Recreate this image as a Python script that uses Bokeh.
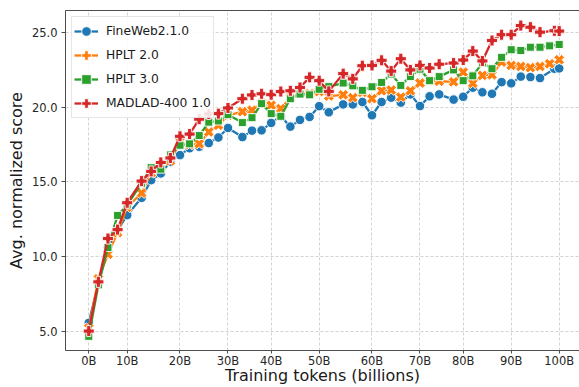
import numpy as np
from bokeh.plotting import figure
from bokeh.models import Range1d, FixedTicker, Legend, LegendItem, PrintfTickFormatter, LinearAxis
from bokeh.embed import file_html
from bokeh.resources import INLINE

# ---- data (x = checkpoint position on the plotted axis, y = avg. normalized score) ----
tick_pos = [0, 8, 19, 29, 38, 48, 59, 69, 78, 88, 98]
tick_labels = ["0B", "10B", "20B", "30B", "40B", "50B", "60B", "70B", "80B", "90B", "100B"]
y_ticks = [5, 10, 15, 20, 25]

x_fineweb = [0, 2, 4, 6, 8, 11, 13, 15, 17, 19, 21, 23, 25, 27, 29, 32, 34, 36, 38, 40, 42, 44, 46, 48, 50,
             53, 55, 57, 59, 61, 63, 65, 67, 69, 71, 73, 76, 78, 80, 82, 84, 86, 88, 90, 92, 94, 97, 98]
y_fineweb = [5.55, 8.2, 10.6, 11.77, 12.77, 13.93, 15.11, 15.56, 16.34, 16.79, 17.25, 17.35, 17.6, 17.97, 18.61,
             18.0, 18.43, 18.45, 18.95, 19.4, 18.7, 19.15, 19.35, 20.07, 19.66,
             20.19, 20.19, 20.35, 19.46, 20.35, 20.64, 20.31, 20.86, 20.08, 20.73, 20.86,
             20.51, 20.7, 21.31, 21.0, 20.9, 21.68, 21.6, 22.05, 22.02, 21.95, 22.58, 22.6]

x_hplt2 = [0, 2, 4, 6, 8, 11, 13, 15, 17, 19, 21, 23, 25, 27, 29, 32, 34, 36, 38, 40, 42, 44, 46, 48, 50,
           53, 55, 57, 59, 61, 63, 65, 67, 69, 71, 73, 76, 78, 80, 82, 84, 86, 88, 90, 92, 94, 96, 98]
y_hplt2 = [5.2, 8.5, 10.15, 11.6, 13.3, 14.25, 15.6, 16.0, 16.4, 17.7, 17.5, 17.55, 18.34, 18.79, 19.46,
           19.7, 19.8, 20.28, 20.13, 19.91, 20.64, 21.0, 20.9, 21.05, 20.75,
           20.83, 20.64, 21.0, 20.57, 21.1, 21.15, 20.68, 21.1, 21.62, 21.8, 21.74,
           21.7, 22.35, 21.6, 22.13, 22.17, 23.02, 22.8, 22.73, 22.65, 22.73, 22.91, 23.18]

x_hplt3 = list(x_hplt2)
y_hplt3 = [4.65, 8.1, 10.6, 12.75, 13.45, 14.9, 15.95, 15.85, 16.8, 17.45, 17.55, 18.1, 19.0, 19.08, 19.5,
           18.97, 19.3, 20.24, 19.57, 19.39, 20.57, 20.88, 20.83, 21.2, 21.38,
           21.62, 21.43, 21.13, 21.37, 21.66, 22.22, 21.46, 22.05, 22.55, 21.78, 22.05,
           22.5, 21.78, 22.1, 22.97, 22.58, 23.34, 23.85, 23.8, 24.02, 24.02, 24.11, 24.2]

x_madlad = list(x_fineweb)
y_madlad = [5.0, 8.3, 11.2, 11.8, 13.6, 15.05, 15.7, 16.3, 16.6, 18.05, 18.2, 19.2, 19.55, 19.57, 19.95,
            20.57, 20.82, 20.9, 20.84, 21.05, 21.1, 21.32, 22.0, 21.78, 21.06,
            22.25, 21.9, 22.78, 22.8, 23.14, 22.42, 23.25, 22.5, 22.8, 22.63, 22.88,
            22.96, 23.16, 23.76, 23.1, 24.47, 24.86, 24.86, 25.47, 25.36, 25.03, 25.12, 25.1]

series = [
    ("FineWeb2.1.0", x_fineweb, y_fineweb),
    ("HPLT 2.0", x_hplt2, y_hplt2),
    ("HPLT 3.0", x_hplt3, y_hplt3),
    ("MADLAD-400 1.0", x_madlad, y_madlad),
]

# ---- styles ----
colors = ["#1f77b4", "#ff7f0e", "#2ca02c", "#d62728"]
markers = [("circle", 9.5, 0.0), ("plus", 11, np.pi / 4), ("square", 8, 0.0), ("plus", 11, 0.0)]
FONT = "DejaVu Sans"
SPINE = "#4d4d4d"

p = figure(width=579, height=387, output_backend="svg", toolbar_location=None,
           x_range=Range1d(-4.85, 102.23), y_range=Range1d(3.70, 26.48),
           min_border_left=65, min_border_right=0, min_border_top=10, min_border_bottom=36)
p.background_fill_color = "white"
p.border_fill_color = "white"
p.outline_line_color = None

xax = p.below[0]
yax = p.left[0]

# top spine (no right spine visible in the reference)
top_axis = LinearAxis(ticker=FixedTicker(ticks=[]), major_tick_line_color=None,
                      minor_tick_line_color=None, major_label_text_font_size="10px",
                      axis_line_color=SPINE, axis_line_width=1)
p.add_layout(top_axis, "above")

# grid
for g in (p.xgrid, p.ygrid):
    g.grid_line_color = "#b0b0b0"
    g.grid_line_alpha = 0.7
    g.grid_line_dash = "3 2"
    g.grid_line_width = 0.8
p.xgrid.ticker = FixedTicker(ticks=tick_pos)
p.ygrid.ticker = FixedTicker(ticks=y_ticks)

# axes
xax.ticker = FixedTicker(ticks=tick_pos)
xax.major_label_overrides = {t: l for t, l in zip(tick_pos, tick_labels)}
yax.ticker = FixedTicker(ticks=y_ticks)
yax.formatter = PrintfTickFormatter(format="%.1f")
for ax in (xax, yax):
    ax.axis_line_color = SPINE
    ax.major_tick_line_color = SPINE
    ax.major_tick_in = 0
    ax.minor_tick_line_color = None
    ax.major_label_text_font = FONT
    ax.major_label_text_font_size = "11.5px"
    ax.major_label_text_color = "#262626"
    ax.axis_label_text_font = FONT
    ax.axis_label_text_font_size = "16px"
    ax.axis_label_text_font_style = "normal"
    ax.axis_label_text_color = "#1a1a1a"
xax.major_tick_out = 3
xax.major_label_standoff = 0
xax.axis_label = "Training tokens (billions)"
xax.axis_label_standoff = -5
yax.major_tick_out = 4
yax.major_label_standoff = 4
yax.axis_label = "Avg. normalized score"
yax.axis_label_standoff = 3

items = []
for (name, xs, ys), c, (mk, sz, ang) in zip(series, colors, markers):
    lr = p.line(xs, ys, line_color=c, line_width=2.3)
    sr = p.scatter(xs, ys, marker=mk, size=sz, angle=ang, fill_color=c,
                   line_color="white", line_width=0.9)
    items.append(LegendItem(label=name, renderers=[lr, sr]))

legend = Legend(items=items, location="top_left", margin=6, padding=2, spacing=-6,
                glyph_width=24, glyph_height=24, label_height=16, label_standoff=8,
                label_text_font=FONT, label_text_font_size="12.3px", label_text_color="#1a1a1a",
                border_line_color="#cccccc", border_line_width=1,
                background_fill_color="white", background_fill_alpha=0.85)
p.add_layout(legend)

open("out.html", "w").write(file_html(p, INLINE))
